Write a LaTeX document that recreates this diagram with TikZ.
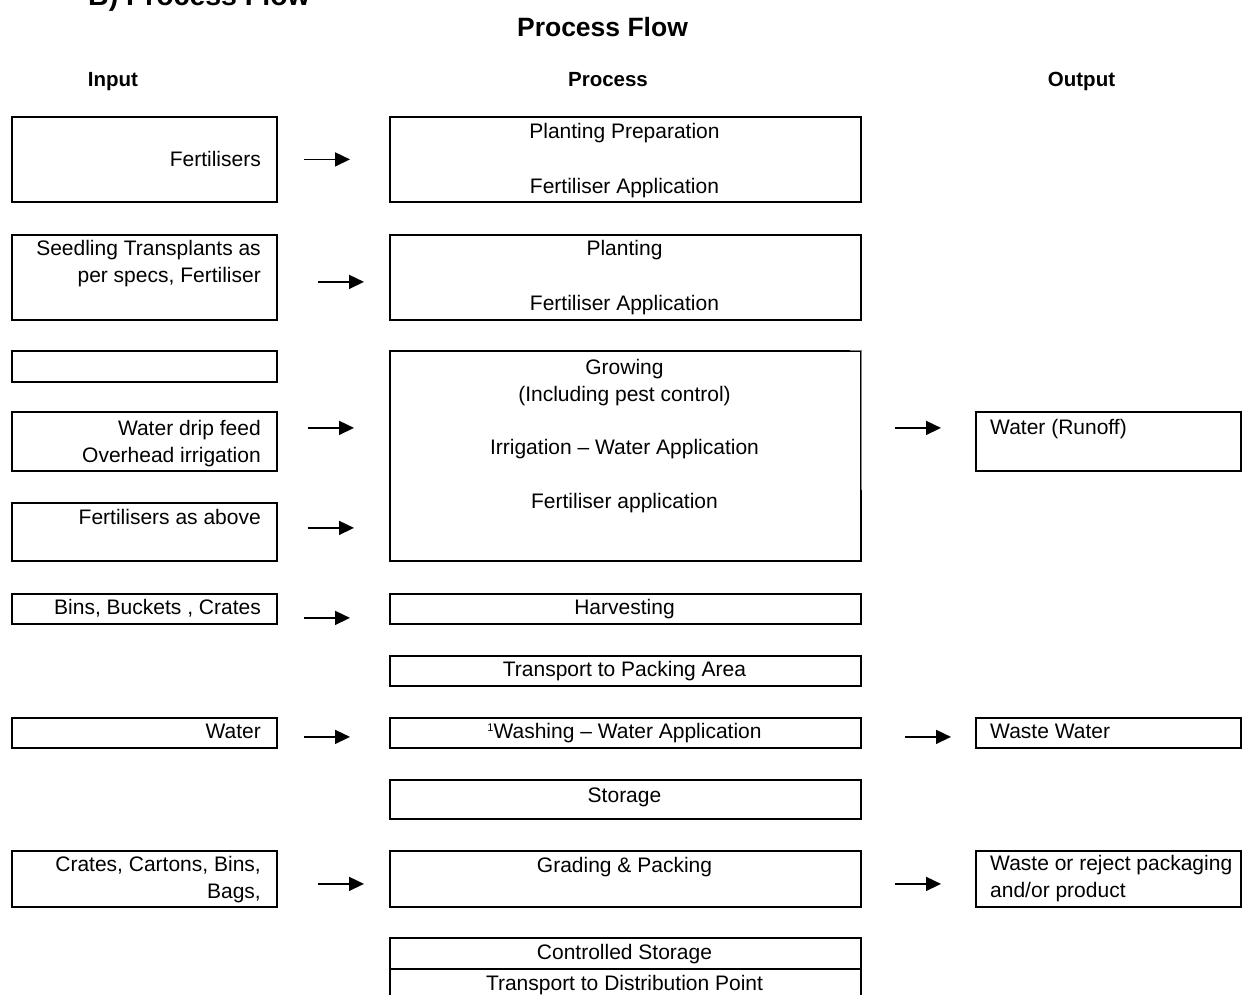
\documentclass[tikz,border=0pt]{standalone}
\usepackage{fontspec}
\setmainfont{Liberation Sans}
\usetikzlibrary{positioning,arrows.meta}

\begin{document}
\begin{tikzpicture}[x=1pt,y=-1pt,
    box/.style={draw, line width=1.8pt, inner sep=0pt, anchor=north west},
    txt/.style={inner sep=0pt, font=\fontsize{21}{26.5}\selectfont},
    head/.style={inner sep=0pt, anchor=base, font=\fontsize{20.5}{24}\selectfont\bfseries},
    flow/.style={line width=1.6pt, -{Triangle[length=15pt,width=14pt]}}]
    \useasboundingbox (0,0) rectangle (1252,994);
    \clip (0,0) rectangle (1252,994);

      % Titles
      \node[head, anchor=base west, font=\fontsize{28.5}{32}\selectfont\bfseries]
        (title) at (88,5) {B) Process Flow};
      \node[head, font=\fontsize{26.5}{30}\selectfont\bfseries] (flowtitle) at (602.5,36) {Process Flow};
      \node[head] (hin) at (113,86) {Input};
      \node[head] (hpr) at (608,86) {Process};
      \node[head] (hout) at (1081.5,86) {Output};

      % Input
      \node[box, minimum width=265, minimum height=85] (in1) at (11,116) {};
      \node[box, minimum width=265, minimum height=85] (in2) at (11,234) {};
      \node[box, minimum width=265, minimum height=31] (in3) at (11,350) {};
      \node[box, minimum width=265, minimum height=59] (in4) at (11,411) {};
      \node[box, minimum width=265, minimum height=58] (in5) at (11,502) {};
      \node[box, minimum width=265, minimum height=30] (in6) at (11,593) {};
      \node[box, minimum width=265, minimum height=30] (in7) at (11,717) {};
      \node[box, minimum width=265, minimum height=56] (in8) at (11,850) {};

      \node[txt, anchor=base east] (tin1) at (261,166) {Fertilisers};
      \node[txt, anchor=base east, align=right] (tin2) at (261,282)
        {Seedling Transplants as\\per specs, Fertiliser};
      \node[txt, anchor=base east, align=right] (tin4) at (261,462)
        {Water drip feed\\Overhead irrigation};
      \node[txt, anchor=base east] (tin5) at (261,524) {Fertilisers as above};
      \node[txt, anchor=base east] (tin6) at (261,614) {Bins, Buckets , Crates};
      \node[txt, anchor=base east] (tin7) at (261,738) {Water};
      \node[txt, anchor=base east, align=right] (tin8) at (261,898)
        {Crates, Cartons, Bins,\\Bags,};

      % Process
      \node[box, minimum width=471, minimum height=85] (pr1) at (389,116) {};
      \node[box, minimum width=471, minimum height=85] (pr2) at (389,234) {};
      \node[box, minimum width=471, minimum height=210] (pr3) at (389,350) {};
      \node[box, minimum width=471, minimum height=30] (pr4) at (389,593) {};
      \node[box, minimum width=471, minimum height=30] (pr5) at (389,655) {};
      \node[box, minimum width=471, minimum height=30] (pr6) at (389,717) {};
      \node[box, minimum width=471, minimum height=39] (pr7) at (389,779) {};
      \node[box, minimum width=471, minimum height=56] (pr8) at (389,850) {};
      \node[box, minimum width=471, minimum height=31] (pr9) at (389,937) {};
      \node[box, minimum width=471, minimum height=40] (pr10) at (389,968) {};

      % thin grey edge on the growing box
      \draw[white, line width=2.4pt] ([xshift=-12pt]pr3.north east) -- (pr3.north east) -- ([yshift=-140pt]pr3.north east);
      \draw[gray, line width=0.8pt] ([xshift=-12pt]pr3.north east) -- ([xshift=-0.5pt]pr3.north east) -- ([xshift=-0.5pt, yshift=-140pt]pr3.north east);

      \node[txt, anchor=base, align=center] (tpr1) at (624.5,193)
        {Planting Preparation\\[28.5pt]Fertiliser Application};
      \node[txt, anchor=base, align=center] (tpr2) at (624.5,310)
        {Planting\\[28.5pt]Fertiliser Application};
      \node[txt, anchor=base, align=center] (tpr3) at (624.5,508)
        {Growing\\(Including pest control)\\[27pt]Irrigation -- Water Application\\[27pt]Fertiliser application};
      \node[txt, anchor=base] (tpr4) at (624.5,614) {Harvesting};
      \node[txt, anchor=base] (tpr5) at (624.5,676) {Transport to Packing Area};
      \node[txt, anchor=base] (tpr6) at (624.5,738)
        {\raisebox{7pt}{\fontsize{11}{11}\selectfont 1}Washing -- Water Application};
      \node[txt, anchor=base] (tpr7) at (624.5,802) {Storage};
      \node[txt, anchor=base] (tpr8) at (624.5,872) {Grading \& Packing};
      \node[txt, anchor=base] (tpr9) at (624.5,959) {Controlled Storage};
      \node[txt, anchor=base] (tpr10) at (624.5,990) {Transport to Distribution Point};

      % Output
      \node[box, minimum width=265, minimum height=59] (out1) at (975,411) {};
      \node[box, minimum width=265, minimum height=30] (out2) at (975,717) {};
      \node[box, minimum width=265, minimum height=56] (out3) at (975,850) {};

      \node[txt, anchor=base west] (tout1) at (990,434) {Water (Runoff)};
      \node[txt, anchor=base west] (tout2) at (990,738) {Waste Water};
      \node[txt, anchor=base west, align=left] (tout3) at (990,897)
        {Waste or reject packaging\\and/or product};

      % Arrows
      \draw[flow, shorten <=26pt, shorten >=39pt] (in1.east) -- (pr1.west);
      \draw[flow, shorten <=40pt, shorten >=25pt] ([yshift=-4.5pt]in2.east) -- ([yshift=-4.5pt]pr2.west);
      \draw[flow, shorten <=30pt, shorten >=35pt] ([yshift=13.5pt]in4.east) -- ([yshift=13.5pt]in4.east -| pr3.west);
      \draw[flow, shorten <=30pt, shorten >=35pt] ([yshift=4pt]in5.east) -- ([yshift=4pt]in5.east -| pr3.west);
      \draw[flow, shorten <=26pt, shorten >=39pt] ([yshift=-9pt]in6.east) -- ([yshift=-9pt]pr4.west);
      \draw[flow, shorten <=26pt, shorten >=39pt] ([yshift=-4pt]in7.east) -- ([yshift=-4pt]pr6.west);
      \draw[flow, shorten <=40pt, shorten >=25pt] ([yshift=-5pt]in8.east) -- ([yshift=-5pt]pr8.west);

      \draw[flow, shorten <=33pt, shorten >=34pt] ([yshift=13.5pt]out1.west -| pr3.east) -- ([yshift=13.5pt]out1.west);
      \draw[flow, shorten <=43pt, shorten >=24pt] ([yshift=-4pt]pr6.east) -- ([yshift=-4pt]out2.west);
      \draw[flow, shorten <=33pt, shorten >=34pt] ([yshift=-5pt]pr8.east) -- ([yshift=-5pt]out3.west);
  \end{tikzpicture}
\end{document}
